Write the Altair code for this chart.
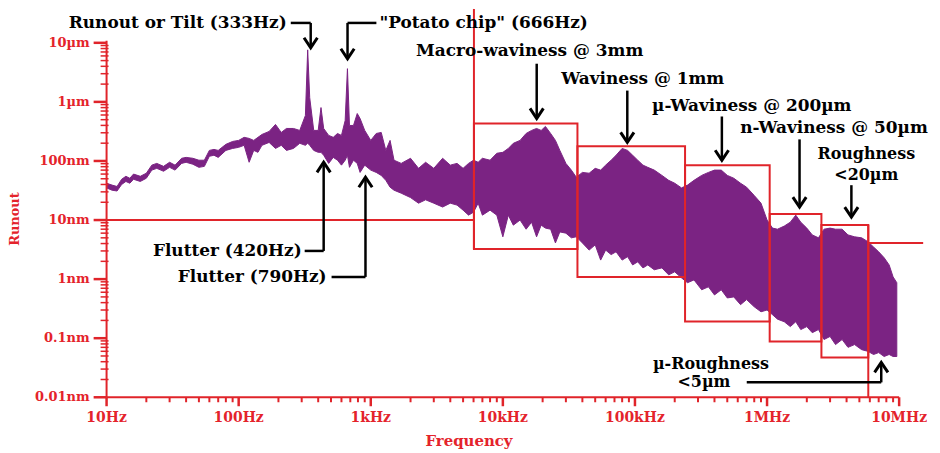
import altair as alt
import pandas as pd

# ---------------- data ----------------
freq = [10, 11, 12, 13, 14, 15, 16, 18, 20, 22, 24, 27, 30, 33, 37, 40, 45, 50, 55, 60,
        65, 70, 80, 90, 100, 110, 120, 130, 140, 150, 170, 190, 210, 230, 260, 290, 320, 333,
        345, 370, 400, 420, 440, 480, 520, 560, 600, 640, 666, 690, 740, 790, 830, 900, 1000,
        1100, 1200, 1300, 1400, 1500, 1700, 2000, 2300, 2600, 3000, 3500, 4000, 4500, 5000,
        5500, 6000, 6500, 7000, 8000, 9000, 10e3, 11e3, 12e3, 13.5e3, 15e3, 16.5e3, 18e3,
        19.5e3, 21e3, 23e3, 25e3, 27e3, 30e3, 33e3, 36e3, 40e3, 45e3, 50e3, 55e3, 60e3, 66e3,
        72e3, 80e3, 88e3, 96e3, 105e3, 115e3, 125e3, 140e3, 160e3, 180e3, 200e3, 225e3, 250e3,
        280e3, 320e3, 360e3, 400e3, 450e3, 500e3, 560e3, 630e3, 700e3, 800e3, 900e3, 1.0e6,
        1.1e6, 1.2e6, 1.35e6, 1.5e6, 1.65e6, 1.8e6, 2.0e6, 2.2e6, 2.45e6, 2.7e6, 3.0e6, 3.3e6,
        3.7e6, 4.1e6, 4.6e6, 5.2e6, 5.8e6, 6.4e6, 7.0e6, 7.7e6, 8.4e6, 9.0e6, 9.6e6]
# upper envelope of the runout spectrum (nm)
hi = [42, 39, 37, 49, 55, 51, 60, 55, 62, 85, 91, 81, 95, 85, 111, 115, 111, 103, 103, 151,
      157, 151, 191, 214, 223, 251, 241, 223, 251, 281, 316, 415, 304, 355, 355, 329, 589, 7600,
      1180, 329, 329, 802, 355, 271, 251, 292, 271, 484, 3650, 399, 399, 635, 524, 329, 223,
      292, 304, 151, 223, 103, 91, 111, 75, 95, 75, 111, 85, 91, 75,
      91, 103, 95, 111, 103, 135, 140, 163, 199, 223, 292, 329, 355,
      329, 384, 292, 223, 151, 91, 70, 53, 64, 62, 75, 70, 85, 103,
      125, 163, 151, 125, 103, 85, 78, 70, 57, 47, 42, 35, 39,
      47, 57, 64, 70, 70, 57, 51, 42, 36, 26, 19.3, 10,
      7.3, 7.0, 7.9, 9.2, 12.1, 9.2, 7.3, 5.6, 5.0, 7.0, 7.3, 7.0,
      7.0, 5.6, 5.2, 5.0, 4.3, 3.5, 2.9, 2.3, 1.74, 1.09, 0.87]
# lower envelope of the runout spectrum (nm)
lo = [35, 32, 31, 40, 45, 42, 49, 45, 51, 70, 75, 67, 78, 70, 91, 95, 88, 78, 81, 120,
      125, 115, 151, 163, 170, 184, 95, 151, 140, 184, 206, 163, 184, 151, 163, 199, 184, 200,
      184, 151, 140, 140, 125, 91, 115, 103, 85, 103, 125, 78, 103, 91, 64, 85, 70,
      64, 57, 47, 36, 32, 28.5, 24, 19.3, 22, 19.3, 16.6, 19.3, 17.9, 14.7,
      12.1, 13.6, 19.3, 12.1, 14.7, 12.1, 5.2, 12.1, 8.2, 10, 7.0, 9.2, 5.2,
      8.2, 7.3, 7.0, 4.1, 6.3, 6.0, 5.0, 5.2, 4.1, 3.1, 3.8, 2.1, 3.1, 2.6,
      2.9, 2.1, 2.4, 1.74, 1.96, 1.55, 1.74, 1.44, 1.55, 1.18, 1.33, 1.05, 0.87,
      0.97, 0.66, 0.74, 0.54, 0.66, 0.48, 0.50, 0.37, 0.45, 0.34, 0.28, 0.30,
      0.25, 0.21, 0.19, 0.157, 0.19, 0.14, 0.157, 0.124, 0.14, 0.095, 0.107, 0.078,
      0.095, 0.070, 0.078, 0.064, 0.060, 0.053, 0.057, 0.049, 0.053, 0.049, 0.049]

x_ticks = [10, 100, 1000, 1e4, 1e5, 1e6, 1e7]
x_labels = ["10Hz", "100Hz", "1kHz", "10kHz", "100kHz", "1MHz", "10MHz"]
y_ticks = [0.01, 0.1, 1, 10, 100, 1000, 10000]
y_labels = ["0.01nm", "0.1nm", "1nm", "10nm", "100nm", "1µm", "10µm"]
x_title = ["Frequency"]
y_title = ["Runout"]

# frequency bands (red boxes): start Hz, end Hz, low nm, high nm
box_f1 = [6.04e3, 36.7e3, 239.5e3, 1.047e6, 2.58e6]
box_f2 = [36.7e3, 239.5e3, 1.047e6, 2.58e6, 5.84e6]
box_v1 = [3.24, 1.09, 0.191, 0.0878, 0.0472]
box_v2 = [431, 177, 84.5, 12.6, 8.23]

# other red guide lines
red_f1 = [10, 6.04e3, 5.84e6, 5.84e6]
red_f2 = [6.04e3, 6.04e3, 15.2e6, 5.84e6]
red_v1 = [10, 37400, 4.09, 8.23]
red_v2 = [10, 3.24, 4.09, 0.01]

# black annotation connectors
blk_f1 = [248, 351, 667, 667, 18040, 87.5e3, 455e3, 1.762e6, 4.35e6, 316, 440, 505, 912, 702e3, 7.32e6]
blk_f2 = [351, 351, 1103, 667, 18040, 87.5e3, 455e3, 1.762e6, 4.35e6, 440, 440, 912, 912, 7.32e6, 7.32e6]
blk_v1 = [21700, 21700, 21700, 21700, 4427, 1553, 566, 232, 38.9, 3.0, 3.0, 1.09, 1.09, 0.01788, 0.01788]
blk_v2 = [21700, 8235, 21700, 5374, 524, 206, 102.6, 16.55, 11.2, 3.0, 95, 1.09, 53, 0.01788, 0.0389]

down_f = [351, 667, 18040, 87.5e3, 455e3, 1.762e6, 4.35e6]
down_v = [8235, 5374, 524, 206, 102.6, 16.55, 11.2]
up_f = [440, 912, 7.32e6]
up_v = [95, 53, 0.0389]

c_text = ["Macro-waviness @ 3mm", "Waviness @ 1mm", "µ-Waviness @ 200µm", "n-Waviness @ 50µm"]
c_f = [15970, 114.5e3, 766e3, 3.21e6]
c_v = [7330, 2474, 867, 355]
s_text = ["Roughness", "<20µm", "µ-Roughness", "<5µm"]
s_f = [5.64e6, 5.64e6, 376e3, 333e3]
s_v = [132, 58, 0.0365, 0.0180]
r_text = ["Runout or Tilt (333Hz)", "Flutter (420Hz)", "Flutter (790Hz)"]
r_f = [231, 300, 463]
r_v = [21700, 3.0, 1.09]
l_text = ['"Potato chip" (666Hz)']
l_f = [1162]
l_v = [21700]

# ---------------- styling ----------------
PURPLE = "#7B2383"
RED = "#E0242A"
LABEL_RED = "#E4232B"
FONT = "DejaVu Serif"
W, H = 796, 356


def minor_ticks(decades):
    out = []
    for d in decades[:-1]:
        out.extend([k * d for k in range(2, 10)])
    return out


x_scale = alt.Scale(type="log", domain=[10, 1e7], nice=False)
y_scale = alt.Scale(type="log", domain=[0.01, 10000], nice=False)

# axes are drawn as marks (domain, ticks, labels, titles) from the scales
X = alt.X("f:Q", scale=x_scale, axis=None)
Y = alt.Y("v:Q", scale=y_scale, axis=None)
X2 = alt.X2("f2:Q")
Y2 = alt.Y2("v2:Q")

spec_df = pd.DataFrame({"f": freq, "v": hi, "v2": lo})
box_df = pd.DataFrame({"f": box_f1, "f2": box_f2, "v": box_v1, "v2": box_v2})
red_df = pd.DataFrame({"f": red_f1, "f2": red_f2, "v": red_v1, "v2": red_v2})
blk_df = pd.DataFrame({"f": blk_f1, "f2": blk_f2, "v": blk_v1, "v2": blk_v2})
down_df = pd.DataFrame({"f": down_f, "v": down_v})
up_df = pd.DataFrame({"f": up_f, "v": up_v})
ct_df = pd.DataFrame({"f": c_f, "v": c_v, "t": c_text})
st_df = pd.DataFrame({"f": s_f, "v": s_v, "t": s_text})
rt_df = pd.DataFrame({"f": r_f, "v": r_v, "t": r_text})
lt_df = pd.DataFrame({"f": l_f, "v": l_v, "t": l_text})
xlab_df = pd.DataFrame({"f": x_ticks, "t": x_labels})
ylab_df = pd.DataFrame({"v": y_ticks, "t": y_labels})
xmaj_df = pd.DataFrame({"f": x_ticks})
xmin_df = pd.DataFrame({"f": minor_ticks(x_ticks)})
ymaj_df = pd.DataFrame({"v": y_ticks})
ymin_df = pd.DataFrame({"v": minor_ticks(y_ticks)})
xt_df = pd.DataFrame({"t": x_title})
yt_df = pd.DataFrame({"t": y_title})

spectrum = alt.Chart(spec_df).mark_area(
    color=PURPLE, stroke=PURPLE, strokeWidth=1, opacity=1
).encode(x=X, y=Y, y2=Y2)

# axis lines
x_domain = alt.Chart(xt_df).mark_rule(color=RED, strokeWidth=2).encode(
    x=alt.value(0), x2=alt.value(W), y=alt.value(H))
y_domain = alt.Chart(yt_df).mark_rule(color=RED, strokeWidth=2).encode(
    y=alt.value(-2), y2=alt.value(H), x=alt.value(0))

# axis tick marks (positions from the scales, lengths are styling)
x_major_ticks = alt.Chart(xmaj_df).mark_rule(color=RED, strokeWidth=2.5).encode(
    x=X, y=alt.value(H), y2=alt.value(H + 9))
x_minor_ticks = alt.Chart(xmin_df).mark_rule(color=RED, strokeWidth=2).encode(
    x=X, y=alt.value(H), y2=alt.value(H + 5))
y_major_ticks = alt.Chart(ymaj_df).mark_rule(color=RED, strokeWidth=2.5).encode(
    y=Y, x=alt.value(-13), x2=alt.value(0))
y_minor_ticks = alt.Chart(ymin_df).mark_rule(color=RED, strokeWidth=1.5).encode(
    y=Y, x=alt.value(-6), x2=alt.value(2))

# axis labels and titles
x_lab = alt.Chart(xlab_df).mark_text(
    font=FONT, fontWeight="bold", fontSize=14, color=LABEL_RED, align="center", baseline="middle"
).encode(x=X, y=alt.value(H + 21), text="t:N")
y_lab = alt.Chart(ylab_df).mark_text(
    font=FONT, fontWeight="bold", fontSize=13, color=LABEL_RED, align="right", baseline="middle"
).encode(y=Y, x=alt.value(-17), text="t:N")
x_tit = alt.Chart(xt_df).mark_text(
    font=FONT, fontWeight="bold", fontSize=15, color=LABEL_RED, align="center", baseline="middle"
).encode(x=alt.value(364), y=alt.value(H + 44), text="t:N")
y_tit = alt.Chart(yt_df).mark_text(
    font=FONT, fontWeight="bold", fontSize=13, color=LABEL_RED, align="center", baseline="middle",
    angle=270
).encode(x=alt.value(-92), y=alt.value(177), text="t:N")

boxes = alt.Chart(box_df).mark_rect(
    fillOpacity=0, stroke=RED, strokeWidth=2
).encode(x=X, x2=X2, y=Y, y2=Y2)

red_lines = alt.Chart(red_df).mark_rule(color=RED, strokeWidth=2).encode(x=X, x2=X2, y=Y, y2=Y2)

blk_lines = alt.Chart(blk_df).mark_rule(color="black", strokeWidth=2.5).encode(x=X, x2=X2, y=Y, y2=Y2)

down_heads = alt.Chart(down_df).mark_point(
    shape="M-1,-1.5L0,0L1,-1.5", filled=False, color="black", strokeWidth=3, size=180, opacity=1
).encode(x=X, y=Y)
up_heads = alt.Chart(up_df).mark_point(
    shape="M-1,1.5L0,0L1,1.5", filled=False, color="black", strokeWidth=3, size=180, opacity=1
).encode(x=X, y=Y)

txt_kw = dict(font=FONT, fontWeight="bold", fontSize=17, color="black", baseline="middle")
c_txt = alt.Chart(ct_df).mark_text(align="center", **txt_kw).encode(x=X, y=Y, text="t:N")
s_txt = alt.Chart(st_df).mark_text(
    align="center", font=FONT, fontWeight="bold", fontSize=16, color="black", baseline="middle"
).encode(x=X, y=Y, text="t:N")
r_txt = alt.Chart(rt_df).mark_text(align="right", **txt_kw).encode(x=X, y=Y, text="t:N")
l_txt = alt.Chart(lt_df).mark_text(align="left", **txt_kw).encode(x=X, y=Y, text="t:N")

chart = alt.layer(
    spectrum, x_domain, y_domain,
    x_lab, y_lab, x_tit, y_tit,
    boxes, red_lines, blk_lines, down_heads, up_heads, c_txt, s_txt, r_txt, l_txt,
    x_major_ticks, x_minor_ticks, y_major_ticks, y_minor_ticks,
).properties(
    width=W, height=H,
    padding={"left": 99, "top": 34, "right": 33, "bottom": 54},
    autosize=alt.AutoSizeParams(type="none"),
    background="white",
).configure_view(strokeWidth=0)

chart.save("out.html", embed_options={"renderer": "svg", "actions": False})
